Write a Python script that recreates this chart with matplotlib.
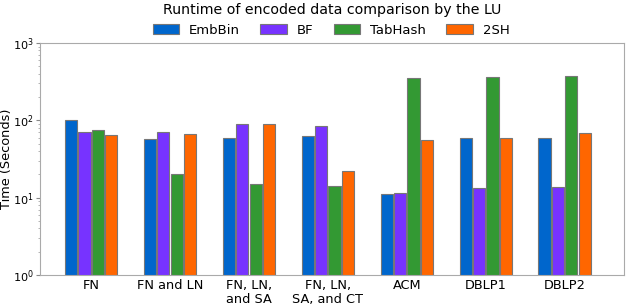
import numpy as np
import matplotlib
matplotlib.use("Agg")
import matplotlib.pyplot as plt

categories = ["FN", "FN and LN", "FN, LN,\nand SA", "FN, LN,\nSA, and CT",
              "ACM", "DBLP1", "DBLP2"]
series_names = ["EmbBin", "BF", "TabHash", "2SH"]
embbin = [102, 57, 59, 62, 11.2, 60, 58.6]
bf = [70, 71, 89, 84, 11.4, 13.4, 13.8]
tabhash = [76, 20, 14.9, 14, 349, 367, 375]
twosh = [65, 67, 91, 22, 56, 59, 69]
colors = ["#0066cc", "#7733ff", "#339933", "#ff6600"]

fig, ax = plt.subplots(figsize=(6.27, 3.07), dpi=100)
x = np.arange(len(categories))
step = 0.17
width = 0.155
for i, (name, vals) in enumerate(zip(series_names, [embbin, bf, tabhash, twosh])):
    ax.bar(x + (i - 1.5) * step, vals, width, color=colors[i], label=name,
           edgecolor="#777777", linewidth=0.8)

ax.set_yscale("log")
ax.set_ylim(1, 1000)
ax.set_xlim(-0.646, 6.75)
ax.set_xticks(x)
ax.set_xticklabels(categories, fontsize=9.3, linespacing=1.05)
ax.tick_params(axis="x", length=0, pad=3)
ax.tick_params(axis="y", labelsize=8.1, color="#888888", length=3, pad=1.5)
ax.tick_params(axis="y", which="minor", color="#aaaaaa", length=1.5)
for s in ax.spines.values():
    s.set_color("#aaaaaa")
ax.set_ylabel("Time (Seconds)", fontsize=9.3)
ax.yaxis.set_label_coords(-0.047, 0.5)

# title and legend centred over the axes
fig.text(0.53, 0.968, "Runtime of encoded data comparison by the LU",
         fontsize=10.2, ha="center", va="center")
fig.legend(loc="center", ncol=4, frameon=False, fontsize=9.5,
           bbox_to_anchor=(0.528, 0.902), handlelength=2.0, handletextpad=0.75,
           columnspacing=1.55, handleheight=0.75, borderpad=0)
fig.subplots_adjust(left=0.064, right=0.995, top=0.86, bottom=0.104)
fig.savefig("out.png", dpi=100)
